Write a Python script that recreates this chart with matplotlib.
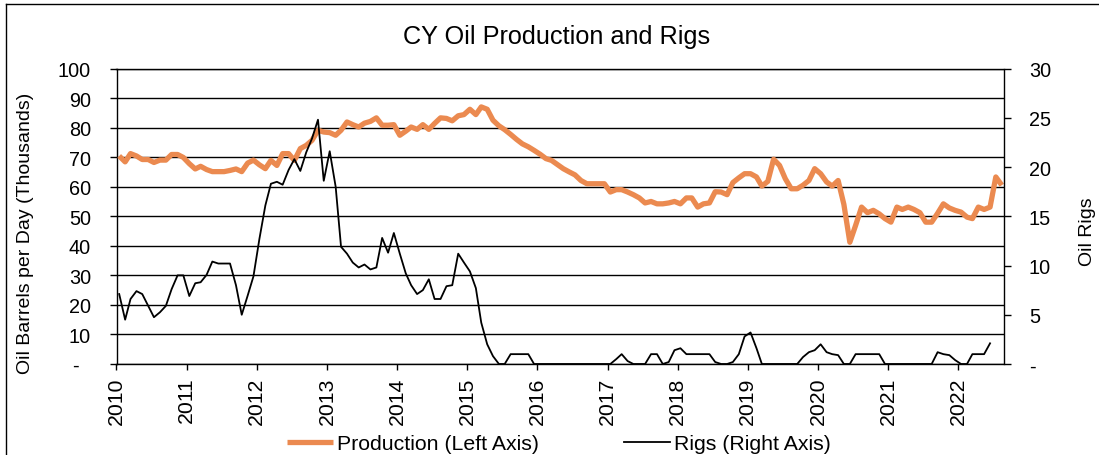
import numpy as np
import pandas as pd
import matplotlib
matplotlib.use("Agg")
import matplotlib.pyplot as plt
import matplotlib.dates as mdates
from matplotlib.lines import Line2D
from matplotlib.ticker import FuncFormatter, MultipleLocator

plt.rcParams['font.family'] = ['Liberation Sans', 'DejaVu Sans']

# ---------------- data ----------------
title = "CY Oil Production and Rigs"
left_label = "Oil Barrels per Day (Thousands)"
right_label = "Oil Rigs"
prod_name = "Production (Left Axis)"
rigs_name = "Rigs (Right Axis)"
start_month = "2010-01"

# monthly oil production, thousand barrels per day (Jan 2010 - Aug 2022)
production = [
    70.4, 68.4, 71.2, 70.4, 69.2, 69.2, 68.2, 69.0, 69.0, 70.9, 70.9, 69.9,   # 2010
    67.8, 66.0, 66.9, 65.8, 65.1, 65.1, 65.1, 65.5, 66.0, 65.1, 68.0, 69.0,   # 2011
    67.4, 66.1, 68.9, 67.2, 71.2, 71.2, 68.9, 72.9, 74.0, 75.7, 79.1, 78.5,   # 2012
    78.3, 77.4, 79.1, 81.9, 81.0, 80.2, 81.5, 82.1, 83.3, 80.8, 80.8, 81.0,   # 2013
    77.4, 78.8, 80.2, 79.4, 81.0, 79.4, 81.4, 83.3, 83.1, 82.3, 84.0, 84.4,   # 2014
    86.2, 84.4, 87.0, 86.2, 82.5, 80.6, 79.3, 77.7, 76.0, 74.5, 73.5, 72.3,   # 2015
    71.0, 69.5, 68.9, 67.5, 66.1, 65.0, 64.0, 62.1, 61.0, 61.0, 61.0, 61.0,   # 2016
    58.2, 59.0, 59.0, 58.2, 57.3, 56.2, 54.5, 55.0, 54.2, 54.2, 54.5, 55.0,   # 2017
    54.2, 56.2, 56.2, 53.1, 54.2, 54.5, 58.3, 58.2, 57.3, 61.4, 63.0, 64.4,   # 2018
    64.4, 63.3, 60.2, 61.8, 69.3, 67.2, 62.7, 59.3, 59.3, 60.5, 62.1, 66.1,   # 2019
    64.4, 61.6, 60.2, 62.1, 54.0, 41.2, 46.9, 53.1, 51.2, 52.0, 50.8, 49.2,   # 2020
    48.0, 53.1, 52.3, 53.1, 52.3, 51.2, 48.0, 48.0, 51.0, 54.2, 52.8, 52.0,   # 2021
    51.4, 49.7, 49.2, 53.1, 52.3, 53.1, 63.3, 60.5,                           # 2022
]

# monthly oil rig count (Jan 2010 - Jun 2022)
rigs = [
    7.1, 4.5, 6.6, 7.4, 7.1, 5.9, 4.75, 5.25, 5.9, 7.6, 9.0, 9.0,            # 2010
    6.9, 8.2, 8.3, 9.05, 10.4, 10.2, 10.2, 10.2, 8.0, 5.0, 6.95, 8.9,        # 2011
    12.7, 16.1, 18.3, 18.5, 18.2, 19.7, 20.8, 19.6, 21.5, 22.9, 24.8, 18.6,  # 2012
    21.6, 18.0, 11.9, 11.2, 10.3, 9.8, 10.1, 9.6, 9.8, 12.8, 11.3, 13.3,     # 2013
    11.2, 9.2, 8.0, 7.1, 7.5, 8.6, 6.6, 6.6, 7.9, 8.0, 11.2, 10.3,           # 2014
    9.4, 7.7, 4.2, 2.0, 0.8, 0.0, 0.0, 1.0, 1.0, 1.0, 1.0, 0.0,              # 2015
    0, 0, 0, 0, 0, 0, 0, 0, 0, 0, 0, 0,                                      # 2016
    0, 0.5, 1.0, 0.3, 0, 0, 0, 1.0, 1.0, 0, 0.2, 1.4,                        # 2017
    1.6, 1.0, 1.0, 1.0, 1.0, 1.0, 0.2, 0, 0, 0.2, 1.0, 2.8,                  # 2018
    3.2, 1.6, 0, 0, 0, 0, 0, 0, 0, 0.7, 1.2, 1.4,                            # 2019
    2.0, 1.2, 1.0, 0.9, 0, 0, 1.0, 1.0, 1.0, 1.0, 1.0, 0,                    # 2020
    0, 0, 0, 0, 0, 0, 0, 0, 1.2, 1.0, 0.9, 0.4,                              # 2021
    0, 0, 1.0, 1.0, 1.0, 2.1,                                                # 2022
]

left_ticks = list(range(0, 101, 10))
right_ticks = list(range(0, 31, 5))

# ---------------- figure ----------------
W, H = 1099, 456
fig = plt.figure(figsize=(W / 100, H / 100), dpi=100)
fig.patch.set_facecolor("white")

x0, x1, ytop, ybot = 116.5, 1003.5, 69.5, 365.0
ax = fig.add_axes([x0 / W, 1 - ybot / H, (x1 - x0) / W, (ybot - ytop) / H])
ax2 = ax.twinx()

def month_dates(n):
    return (pd.period_range(start_month, periods=n, freq="M").to_timestamp()
            + pd.Timedelta(days=14))

prod_dates = month_dates(len(production))
rig_dates = month_dates(len(rigs))

orange = "#EB8A50"
lp, = ax.plot(prod_dates, production, color=orange, lw=3.8,
              solid_joinstyle="round", solid_capstyle="butt", zorder=3)
lr, = ax2.plot(rig_dates, rigs, color="black", lw=1.3,
               solid_joinstyle="round", zorder=3)

ax.set_xlim(pd.Timestamp("2010-01-01"), pd.Timestamp("2022-08-24"))
ax.set_ylim(left_ticks[0], left_ticks[-1])
ax2.set_ylim(right_ticks[0], right_ticks[-1])
ax.set_yticks(left_ticks)
ax2.set_yticks(right_ticks)

ax.yaxis.set_major_formatter(FuncFormatter(lambda v, p: "-  " if v == 0 else f"{v:.0f}"))
ax2.yaxis.set_major_formatter(FuncFormatter(lambda v, p: "-" if v == 0 else f"{v:.0f}"))

ax.xaxis.set_major_locator(mdates.YearLocator())
ax.xaxis.set_major_formatter(mdates.DateFormatter("%Y"))

ax.grid(axis="y", color="black", lw=1.0)
ax.grid(axis="x", visible=False)
ax.set_axisbelow(True)

for s in ["left", "bottom", "top"]:
    ax.spines[s].set_color("black")
    ax.spines[s].set_linewidth(1.0)
ax.spines["right"].set_visible(False)
for s in ["left", "bottom", "top"]:
    ax2.spines[s].set_visible(False)
ax2.spines["right"].set_color("black")
ax2.spines["right"].set_linewidth(1.0)

fs = 14
ax.tick_params(axis="y", direction="out", length=4.8, width=1.0, pad=13.5,
               labelsize=14.3, colors="black")
ax.tick_params(axis="x", direction="out", length=4.5, width=1.0, pad=4.5,
               labelsize=15.3, labelrotation=90, colors="black")
ax2.tick_params(axis="y", direction="out", length=4.8, width=1.0, pad=13.5,
                labelsize=14.3, colors="black")

fig.text(556.7 / W, 1 - 37 / H, title, ha="center", va="center", fontsize=18.2)
fig.text(25.5 / W, 1 - 233 / H, left_label, rotation=90, ha="center", va="center", fontsize=fs)
fig.text(1088 / W, 1 - 231.5 / H, right_label, rotation=90, ha="center", va="center", fontsize=fs)

fig.legend([lp, lr], [prod_name, rigs_name], loc="center",
           bbox_to_anchor=(558.5 / W, 1 - 445 / H), ncol=2, frameon=False,
           fontsize=15.3, handlelength=2.2, handletextpad=0.15, columnspacing=4.0,
           borderaxespad=0, borderpad=0)

# outer chart border (left and top edges visible)
fig.add_artist(Line2D([6 / W, 6 / W], [0, 1 - 4.5 / H], transform=fig.transFigure,
                      color="black", lw=1.0))
fig.add_artist(Line2D([6 / W, 1], [1 - 4.5 / H, 1 - 4.5 / H], transform=fig.transFigure,
                      color="black", lw=1.0))

fig.savefig("out.png", dpi=100)
